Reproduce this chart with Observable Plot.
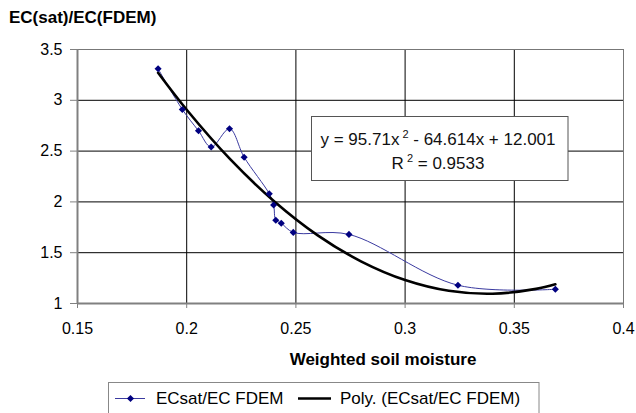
<!DOCTYPE html>
<html><head><meta charset="utf-8">
<script src="https://cdn.jsdelivr.net/npm/d3@7"></script>
<script src="https://cdn.jsdelivr.net/npm/@observablehq/plot@0.6"></script>
<style>html,body{margin:0;padding:0;background:#fff;} svg{display:block}</style>
</head><body><div id="chart"></div>
<script>
const moisture = [0.1869, 0.1980, 0.2054, 0.2112, 0.2196, 0.2263, 0.2378, 0.2398, 0.2408, 0.2433, 0.2488, 0.2743, 0.3242, 0.3688];
const ratio    = [3.31, 2.91, 2.70, 2.54, 2.72, 2.44, 2.08, 1.97, 1.82, 1.79, 1.70, 1.68, 1.18, 1.14];
// Polynomial trendline values (from the equation shown on the chart)
const trendX = [0.1869, 0.20, 0.22, 0.24, 0.26, 0.28, 0.30, 0.32, 0.34, 0.36, 0.3688];
const trendY = [3.271, 2.907, 2.418, 2.007, 1.671, 1.413, 1.231, 1.125, 1.096, 1.144, 1.189];
const xTicks = [0.15, 0.2, 0.25, 0.3, 0.35, 0.4];
const yTicks = [1, 1.5, 2, 2.5, 3, 3.5];
const titleText = "EC(sat)/EC(FDEM)";
const xLabel = "Weighted soil moisture";
const seriesName = "ECsat/EC FDEM";
const trendName = "Poly. (ECsat/EC FDEM)";
const eqLine1 = ["y = 95.71x", "2", " - 64.614x + 12.001"];
const eqLine2 = ["R", "2", " = 0.9533"];

const points = moisture.map((x, i) => ({x, y: ratio[i]}));
const trend = trendX.map((x, i) => ({x, y: trendY[i]}));
const FONT = "'Liberation Sans', Arial, sans-serif";
const MARK_R = 3.2;

const chart = Plot.plot({
  width: 636, height: 413,
  marginLeft: 77, marginRight: 13, marginTop: 49, marginBottom: 110,
  style: {fontFamily: FONT, fontSize: "16px", color: "#000", background: "#fff"},
  x: {domain: [0.15, 0.4]},
  y: {domain: [1, 3.5]},
  marks: [
    Plot.ruleX(xTicks.slice(1, -1), {stroke: "#000", strokeWidth: 1}),
    Plot.ruleY(yTicks.slice(1, -1), {stroke: "#000", strokeWidth: 1}),
    Plot.ruleX([xTicks[xTicks.length - 1]], {stroke: "#777"}),
    Plot.ruleY([yTicks[yTicks.length - 1]], {stroke: "#777"}),
    Plot.line(points, {x: "x", y: "y", stroke: "#3a3aa0", strokeWidth: 1, curve: "catmull-rom"}),
    Plot.line(trend, {x: "x", y: "y", stroke: "#000", strokeWidth: 2.6, curve: "catmull-rom"}),
    Plot.dot(points, {x: "x", y: "y", symbol: "diamond2", r: MARK_R, fill: "#000080", stroke: "none"}),
    Plot.axisX({ticks: xTicks, tickFormat: d => `${d}`, tickSize: 5, tickPadding: 14, label: null, stroke: "#808080", fill: "#000", fontSize: 16}),
    Plot.axisY({ticks: yTicks, tickFormat: d => `${d}`, tickSize: 7, tickPadding: 8, label: null, stroke: "#808080", fill: "#000", fontSize: 16}),
    Plot.ruleX([xTicks[0]], {stroke: "#808080", strokeWidth: 2}),
    Plot.ruleY([yTicks[0]], {stroke: "#808080", strokeWidth: 2})
  ]
});

const svg = d3.select(chart);
svg.append("text").attr("x", 9).attr("y", 22.7).attr("text-anchor", "start")
  .attr("font-family", FONT).attr("font-weight", "bold").attr("font-size", 17).attr("fill", "#000")
  .text(titleText);
svg.append("text").attr("x", 383).attr("y", 365).attr("text-anchor", "middle")
  .attr("font-family", FONT).attr("font-weight", "bold").attr("font-size", 17).attr("fill", "#000")
  .text(xLabel);

// Equation box
const eq = svg.append("g");
eq.append("rect").attr("x", 311.5).attr("y", 116.5).attr("width", 256.5).attr("height", 64)
  .attr("fill", "#fff").attr("stroke", "#555").attr("stroke-width", 1);
function eqText(parts, y) {
  const t = eq.append("text").attr("x", 438).attr("y", y).attr("text-anchor", "middle")
    .attr("font-family", FONT).attr("font-size", 17).attr("fill", "#111");
  t.append("tspan").text(parts[0]);
  t.append("tspan").attr("dy", -7).attr("dx", 3).attr("font-size", 11).text(parts[1]);
  t.append("tspan").attr("dy", 7).attr("font-size", 17).text(parts[2]);
}
eqText(eqLine1, 145);
eqText(eqLine2, 168.5);

// Legend
const lg = svg.append("g").attr("text-anchor", "start");
lg.append("rect").attr("x", 108.5).attr("y", 382.5).attr("width", 430.5).attr("height", 40)
  .attr("fill", "#fff").attr("stroke", "#888").attr("stroke-width", 1);
lg.append("line").attr("x1", 115).attr("x2", 145).attr("y1", 398.5).attr("y2", 398.5)
  .attr("stroke", "#3a3aa0").attr("stroke-width", 1);
lg.append("path").attr("transform", "translate(130.5,398.5)")
  .attr("d", d3.symbol(d3.symbolDiamond2, Math.PI * MARK_R * MARK_R)()).attr("fill", "#000080");
lg.append("text").attr("x", 156).attr("y", 403.5).attr("text-anchor", "start").attr("font-family", FONT).attr("font-size", 17)
  .attr("fill", "#000").text(seriesName);
lg.append("line").attr("x1", 298).attr("x2", 331).attr("y1", 398.5).attr("y2", 398.5)
  .attr("stroke", "#000").attr("stroke-width", 2.6);
lg.append("text").attr("x", 340).attr("y", 403.5).attr("text-anchor", "start").attr("font-family", FONT).attr("font-size", 17)
  .attr("fill", "#000").text(trendName);

document.getElementById("chart").appendChild(chart);
</script>
</body></html>
